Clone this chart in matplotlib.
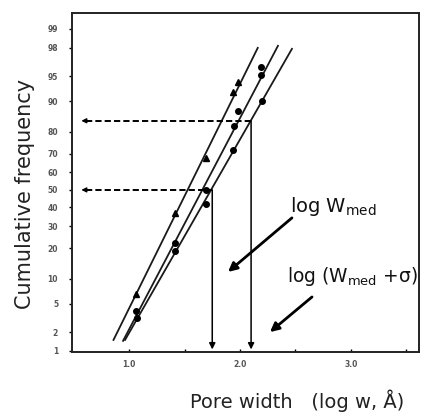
import math
import numpy as np
import matplotlib
matplotlib.use("Agg")
import matplotlib.pyplot as plt
from matplotlib.ticker import FixedLocator, FixedFormatter, NullLocator

# values (x: log w in A, y: cumulative %)
log_width_a = [1.06, 1.41, 1.69, 1.94, 1.98]
freq_a = [6.6, 37.0, 67.8, 92.2, 94.1]
log_width_b = [1.06, 1.41, 1.69, 1.95, 1.98, 2.19, 2.19]
freq_b = [4.0, 22.2, 50.0, 82.3, 87.3, 95.2, 96.2]
log_width_c = [1.07, 1.41, 1.69, 1.94, 2.20]
freq_c = [3.2, 18.9, 42.0, 71.8, 90.1]

# straight lines drawn through each series (end points)
fit_a_x = [0.86, 2.16]
fit_a_y = [1.51, 97.99]
fit_b_x = [0.946, 2.342]
fit_b_y = [1.46, 98.13]
fit_c_x = [0.964, 2.468]
fit_c_y = [1.51, 97.92]

# median and median + sigma
log_w_med = 1.75
log_w_sigma = 2.10
freq_med = 50.0
freq_sigma = 84.1

y_ticks = [1, 2, 5, 10, 20, 30, 40, 50, 60, 70, 80, 90, 95, 98, 99]
x_ticks = [1.0, 2.0, 3.0]
x_tick_labels = ["1.0", "2.0", "3.0"]
x_minor = [1.5, 2.5, 3.5]

_erf = np.vectorize(math.erf, otypes=[float])


def norm_cdf(z):
    return 0.5 * (1.0 + _erf(np.asarray(z, float) / math.sqrt(2.0)))


def norm_ppf(p):
    p = np.clip(np.asarray(p, float), 1e-12, 1 - 1e-12)
    lo = np.full(p.shape, -9.0)
    hi = np.full(p.shape, 9.0)
    for _ in range(55):
        mid = 0.5 * (lo + hi)
        below = norm_cdf(mid) < p
        lo = np.where(below, mid, lo)
        hi = np.where(below, hi, mid)
    return 0.5 * (lo + hi)


def forward(pct):
    return norm_ppf(np.asarray(pct, float) / 100.0)


def inverse(z):
    return norm_cdf(z) * 100.0


fig = plt.figure(figsize=(4.23, 4.19), dpi=100)
ax = fig.add_axes([0.1702, 0.1599, 0.8203, 0.8091])
ax.set_yscale("function", functions=(forward, inverse))
ax.set_xlim(0.486, 3.613)
ax.set_ylim(0.96, 99.47)

line_kw = dict(color="#1a1a1a", lw=1.3)
ax.plot(fit_a_x, fit_a_y, **line_kw)
ax.plot(fit_b_x, fit_b_y, **line_kw)
ax.plot(fit_c_x, fit_c_y, **line_kw)

ax.plot(log_width_a, freq_a, "^", color="k", ms=4.5, ls="none")
ax.plot(log_width_b, freq_b, "o", color="k", ms=4, ls="none")
ax.plot(log_width_c, freq_c, "o", color="k", ms=4, ls="none")

# dashed leaders to the frequency axis
tip_x = 0.57
for xv, yv in [(log_w_med, freq_med), (log_w_sigma, freq_sigma)]:
    ax.plot([tip_x + 0.04, xv], [yv, yv], color="k", lw=1.4, dashes=(3.2, 1.6))
    ax.annotate("", xy=(tip_x, yv), xytext=(tip_x + 0.07, yv),
                arrowprops=dict(arrowstyle="-|>", color="k", lw=1.0,
                                mutation_scale=7, shrinkA=0, shrinkB=0))
    ax.annotate("", xy=(xv, 1.06), xytext=(xv, yv),
                arrowprops=dict(arrowstyle="-|>", color="k", lw=1.1,
                                mutation_scale=9, shrinkA=0, shrinkB=0))

# labels with pointer arrows
ax.annotate("", xy=(1.892, 11.8), xytext=(2.468, 34.3),
            arrowprops=dict(arrowstyle="-|>", color="k", lw=2.0,
                            mutation_scale=13, shrinkA=0, shrinkB=0))
ax.annotate("", xy=(2.27, 2.0), xytext=(2.649, 6.1),
            arrowprops=dict(arrowstyle="-|>", color="k", lw=2.0,
                            mutation_scale=13, shrinkA=0, shrinkB=0))
ax.text(2.45, 37.5, r"log W$_{\mathrm{med}}$", fontsize=14, va="baseline",
        ha="left", color="#111")
ax.text(2.425, 9.2, r"log (W$_{\mathrm{med}}$ +σ)", fontsize=13.4, va="baseline",
        ha="left", color="#111", clip_on=False)

ax.yaxis.set_major_locator(FixedLocator(y_ticks))
ax.yaxis.set_major_formatter(FixedFormatter([str(t) for t in y_ticks]))
ax.yaxis.set_minor_locator(NullLocator())
ax.xaxis.set_major_locator(FixedLocator(x_ticks))
ax.xaxis.set_major_formatter(FixedFormatter(x_tick_labels))
ax.xaxis.set_minor_locator(FixedLocator(x_minor))

ax.tick_params(axis="y", direction="out", length=2, width=1, pad=8,
               labelsize=5.5, labelcolor="#555")
ax.tick_params(axis="x", which="both", direction="in", length=2.5, width=1,
               pad=6, labelsize=5.5, labelcolor="#555")
for lab in ax.get_xticklabels() + ax.get_yticklabels():
    lab.set_fontweight("bold")

for s in ax.spines.values():
    s.set_linewidth(1.4)
    s.set_color("#222")

fig.text(0.702, 0.027, "Pore width   (log w, Å)", fontsize=14, ha="center",
         va="baseline", color="#222")
fig.text(0.058, 0.537, "Cumulative frequency", fontsize=15, rotation=90,
         ha="center", va="center", color="#222")

fig.savefig("out.png", dpi=100)
